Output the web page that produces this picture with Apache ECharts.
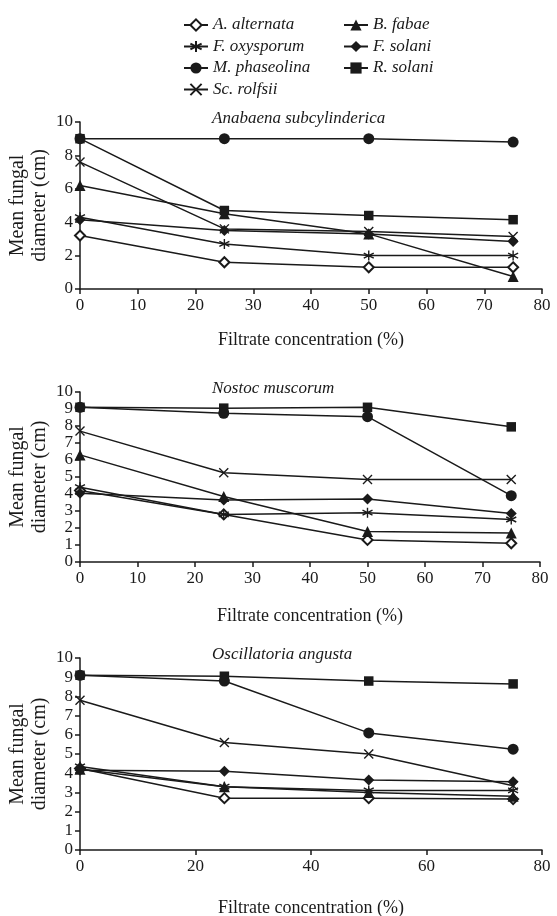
<!DOCTYPE html>
<html>
<head>
<meta charset="utf-8">
<script src="https://cdn.jsdelivr.net/npm/echarts@6/dist/echarts.min.js"></script>
<style>
  html, body { margin: 0; padding: 0; background: #fff; }
  #chart { width: 557px; height: 916px; }
</style>
</head>
<body>
<div id="chart"></div>
<script>
// concentrations (%) at which each fungus was measured
var concentrations = [0, 25, 50, 75];

var fungi = ['A. alternata', 'F. oxysporum', 'M. phaseolina', 'Sc. rolfsii', 'B. fabae', 'F. solani', 'R. solani'];

// mean fungal diameter (cm), one row per fungus, same order as fungi
var anabaenaValues = [
    [3.2, 1.6, 1.3, 1.3],
    [4.3, 2.7, 2.0, 2.0],
    [9.0, 9.0, 9.0, 8.8],
    [7.6, 3.6, 3.45, 3.15],
    [6.2, 4.5, 3.3, 0.75],
    [4.15, 3.5, 3.3, 2.85],
    [9.0, 4.7, 4.4, 4.15]
];
var nostocValues = [
    [4.2, 2.8, 1.3, 1.1],
    [4.4, 2.8, 2.9, 2.5],
    [9.1, 8.75, 8.55, 3.9],
    [7.7, 5.25, 4.85, 4.85],
    [6.3, 3.85, 1.8, 1.7],
    [4.05, 3.65, 3.7, 2.85],
    [9.1, 9.05, 9.1, 7.95]
];
var oscillatoriaValues = [
    [4.25, 2.7, 2.7, 2.65],
    [4.35, 3.3, 3.1, 3.1],
    [9.1, 8.8, 6.1, 5.25],
    [7.8, 5.6, 5.0, 3.35],
    [4.2, 3.3, 3.0, 2.8],
    [4.15, 4.1, 3.65, 3.55],
    [9.1, 9.05, 8.8, 8.65]
];

var panelTitles = ['Anabaena subcylinderica', 'Nostoc muscorum', 'Oscillatoria angusta'];
var panelValues = [anabaenaValues, nostocValues, oscillatoriaValues];

var font = "'Liberation Serif', 'Times New Roman', serif";
var ink = '#1a1a1a';

var asterisk = 'path://M5,0L5,10M0.7,2.5L9.3,7.5M0.7,7.5L9.3,2.5';
var cross = 'path://M0,0L10,10M0,10L10,0';
var symbols = ['emptyDiamond', asterisk, 'circle', cross, 'triangle', 'diamond', 'rect'];
var symbolSizes = [10, 10, 11, 9, 11, 11, 9.5];
// drawing order: M. phaseolina on top, as in the figure
var layerOrder = [2, 3, 8, 4, 5, 6, 7];

var grids = [
    { left: 80, right: 15, top: 122, height: 167, outerBoundsMode: 'none' },
    { left: 80, right: 17, top: 392, height: 170, outerBoundsMode: 'none' },
    { left: 80, right: 15, top: 658, height: 192, outerBoundsMode: 'none' }
];
var xIntervals = [10, 10, 20];
var yIntervals = [2, 1, 1];
var xNameGaps = [42, 45, 49];

var xAxes = [], yAxes = [], titles = [], series = [];

grids.forEach(function(g, i) {
    xAxes.push({
        gridIndex: i,
        type: 'value',
        min: 0,
        max: 80,
        interval: xIntervals[i],
        name: 'Filtrate concentration (%)',
        nameLocation: 'middle',
        nameGap: xNameGaps[i],
        nameMoveOverlap: false,
        nameTextStyle: { fontFamily: font, fontSize: 18, color: ink },
        axisLine: { lineStyle: { color: ink, width: 1.5 } },
        axisTick: { length: 5, lineStyle: { color: ink, width: 1.5 } },
        axisLabel: { fontFamily: font, fontSize: 17, color: ink, margin: 8 },
        splitLine: { show: false }
    });
    yAxes.push({
        gridIndex: i,
        type: 'value',
        min: 0,
        max: 10,
        interval: yIntervals[i],
        name: 'Mean fungal\ndiameter (cm)',
        nameLocation: 'middle',
        nameRotate: 90,
        nameGap: 29,
        nameMoveOverlap: false,
        nameTextStyle: { fontFamily: font, fontSize: 20, color: ink, lineHeight: 22 },
        axisLine: { show: true, lineStyle: { color: ink, width: 1.5 } },
        axisTick: { show: true, length: 5, lineStyle: { color: ink, width: 1.5 } },
        axisLabel: { fontFamily: font, fontSize: 17, color: ink, margin: 7 },
        splitLine: { show: false }
    });
    titles.push({
        text: panelTitles[i],
        left: 212,
        top: g.top - 12,
        padding: 0,
        textStyle: { fontFamily: font, fontSize: 17, fontStyle: 'italic', fontWeight: 'normal', color: ink }
    });

    fungi.forEach(function(name, k) {
        var isPath = symbols[k].indexOf('path://') === 0;
        var isEmpty = symbols[k] === 'emptyDiamond';
        series.push({
            name: name,
            type: 'line',
            xAxisIndex: i,
            yAxisIndex: i,
            data: concentrations.map(function(c, j) { return [c, panelValues[i][k][j]]; }),
            symbol: symbols[k],
            symbolSize: symbolSizes[k],
            showAllSymbol: true,
            lineStyle: { color: ink, width: 1.5 },
            itemStyle: {
                color: ink,
                borderColor: ink,
                borderWidth: (isPath || isEmpty) ? 1.4 : 0
            },
            emphasis: { disabled: true },
            z: layerOrder[k]
        });
    });
});

var legendText = { fontFamily: font, fontSize: 17, fontStyle: 'italic', color: ink, lineHeight: 18 };

var option = {
    animation: false,
    backgroundColor: '#fff',
    title: titles,
    legend: [
        {
            orient: 'vertical',
            left: 183,
            top: 16,
            padding: 0,
            itemWidth: 24,
            itemHeight: 14,
            itemGap: 3.5,
            selectedMode: false,
            data: fungi.slice(0, 4),
            textStyle: legendText
        },
        {
            orient: 'vertical',
            left: 343,
            top: 16,
            padding: 0,
            itemWidth: 24,
            itemHeight: 14,
            itemGap: 3.5,
            selectedMode: false,
            data: fungi.slice(4),
            textStyle: legendText
        }
    ],
    grid: grids,
    xAxis: xAxes,
    yAxis: yAxes,
    series: series
};

echarts.init(document.getElementById('chart'), null, { renderer: 'canvas' }).setOption(option);
</script>
</body>
</html>
